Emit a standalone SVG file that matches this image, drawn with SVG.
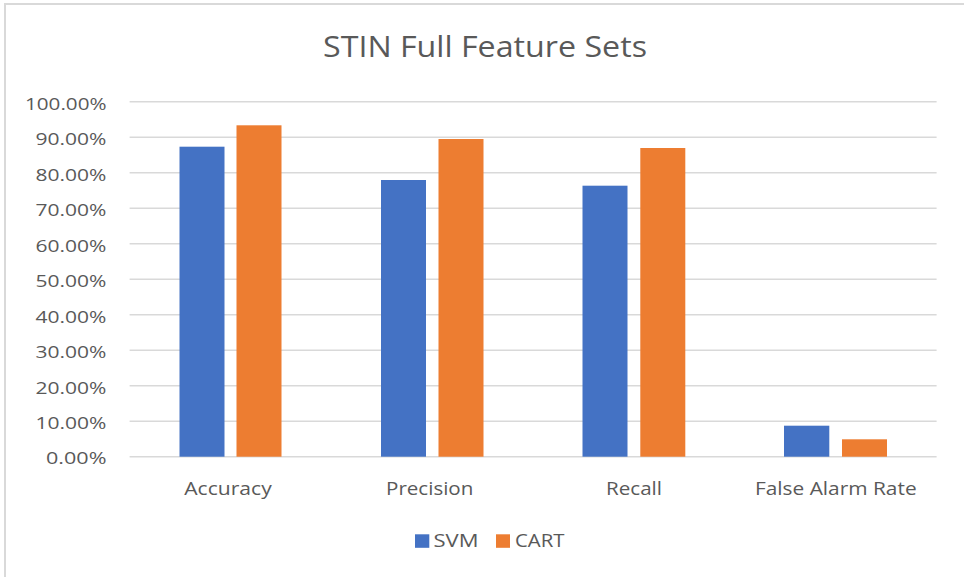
<svg xmlns="http://www.w3.org/2000/svg" width="964" height="577" viewBox="0 0 964 577">
  <style>
    text { font-family: "Open Sans", "Noto Sans", "Liberation Sans", sans-serif; fill: #595959; }
    .title { font-size: 30px; }
    .tick { font-size: 17px; text-anchor: end; }
    .cat { font-size: 17.5px; text-anchor: middle; }
    .leg { font-size: 17.5px; }
    .grid line { stroke: #d9d9d9; stroke-width: 1.5; }
    .svm { fill: #4472c4; }
    .cart { fill: #ed7d31; }
  </style>

  <!-- chart background and frame -->
  <rect x="0" y="0" width="964" height="577" fill="#ffffff"/>
  <path d="M5 577 V4 H964" fill="none" stroke="#d9d9d9" stroke-width="2"/>

  <!-- title -->
  <text class="title" x="485" y="57.3" text-anchor="middle" textLength="324" lengthAdjust="spacingAndGlyphs">STIN Full Feature Sets</text>

  <!-- horizontal gridlines, 0% to 100% -->
  <g class="grid">
    <line x1="129.6" y1="101.7" x2="936.6" y2="101.7"/>
    <line x1="129.6" y1="137.2" x2="936.6" y2="137.2"/>
    <line x1="129.6" y1="172.7" x2="936.6" y2="172.7"/>
    <line x1="129.6" y1="208.2" x2="936.6" y2="208.2"/>
    <line x1="129.6" y1="243.7" x2="936.6" y2="243.7"/>
    <line x1="129.6" y1="279.2" x2="936.6" y2="279.2"/>
    <line x1="129.6" y1="314.7" x2="936.6" y2="314.7"/>
    <line x1="129.6" y1="350.2" x2="936.6" y2="350.2"/>
    <line x1="129.6" y1="385.7" x2="936.6" y2="385.7"/>
    <line x1="129.6" y1="421.2" x2="936.6" y2="421.2"/>
    <line x1="129.6" y1="456.7" x2="936.6" y2="456.7"/>
  </g>

  <!-- value axis labels -->
  <g id="value-axis">
    <text class="tick" x="106.5" y="109.6" textLength="81.5" lengthAdjust="spacingAndGlyphs">100.00%</text>
    <text class="tick" x="106.5" y="145.1" textLength="71" lengthAdjust="spacingAndGlyphs">90.00%</text>
    <text class="tick" x="106.5" y="180.6" textLength="71" lengthAdjust="spacingAndGlyphs">80.00%</text>
    <text class="tick" x="106.5" y="216.1" textLength="71" lengthAdjust="spacingAndGlyphs">70.00%</text>
    <text class="tick" x="106.5" y="251.6" textLength="71" lengthAdjust="spacingAndGlyphs">60.00%</text>
    <text class="tick" x="106.5" y="287.1" textLength="71" lengthAdjust="spacingAndGlyphs">50.00%</text>
    <text class="tick" x="106.5" y="322.6" textLength="71" lengthAdjust="spacingAndGlyphs">40.00%</text>
    <text class="tick" x="106.5" y="358.1" textLength="71" lengthAdjust="spacingAndGlyphs">30.00%</text>
    <text class="tick" x="106.5" y="393.6" textLength="71" lengthAdjust="spacingAndGlyphs">20.00%</text>
    <text class="tick" x="106.5" y="429.1" textLength="71" lengthAdjust="spacingAndGlyphs">10.00%</text>
    <text class="tick" x="106.5" y="464.2" textLength="60.5" lengthAdjust="spacingAndGlyphs">0.00%</text>
  </g>

  <!-- bars per category -->
  <g id="accuracy">
    <rect class="svm" x="179.5" y="146.7" width="45" height="310"/>
    <rect class="cart" x="236.5" y="125.3" width="45" height="331.4"/>
    <text class="cat" x="228" y="495" textLength="87.5" lengthAdjust="spacingAndGlyphs">Accuracy</text>
  </g>
  <g id="precision">
    <rect class="svm" x="381" y="180" width="45" height="276.7"/>
    <rect class="cart" x="438.5" y="139" width="45" height="317.7"/>
    <text class="cat" x="429.7" y="495" textLength="87.3" lengthAdjust="spacingAndGlyphs">Precision</text>
  </g>
  <g id="recall">
    <rect class="svm" x="582.5" y="185.7" width="45" height="271"/>
    <rect class="cart" x="640.3" y="148" width="45" height="308.7"/>
    <text class="cat" x="634" y="495" textLength="56" lengthAdjust="spacingAndGlyphs">Recall</text>
  </g>
  <g id="false-alarm-rate">
    <rect class="svm" x="784" y="425.7" width="45.3" height="31"/>
    <rect class="cart" x="842" y="439.3" width="45" height="17.4"/>
    <text class="cat" x="835.8" y="495" textLength="161.7" lengthAdjust="spacingAndGlyphs">False Alarm Rate</text>
  </g>

  <!-- legend -->
  <g id="legend">
    <rect class="svm" x="415" y="534.3" width="14.3" height="13.5"/>
    <text class="leg" x="433.5" y="547.3" textLength="45" lengthAdjust="spacingAndGlyphs">SVM</text>
    <rect class="cart" x="496" y="534.3" width="14" height="13.5"/>
    <text class="leg" x="515" y="547.3" textLength="49.5" lengthAdjust="spacingAndGlyphs">CART</text>
  </g>
</svg>
